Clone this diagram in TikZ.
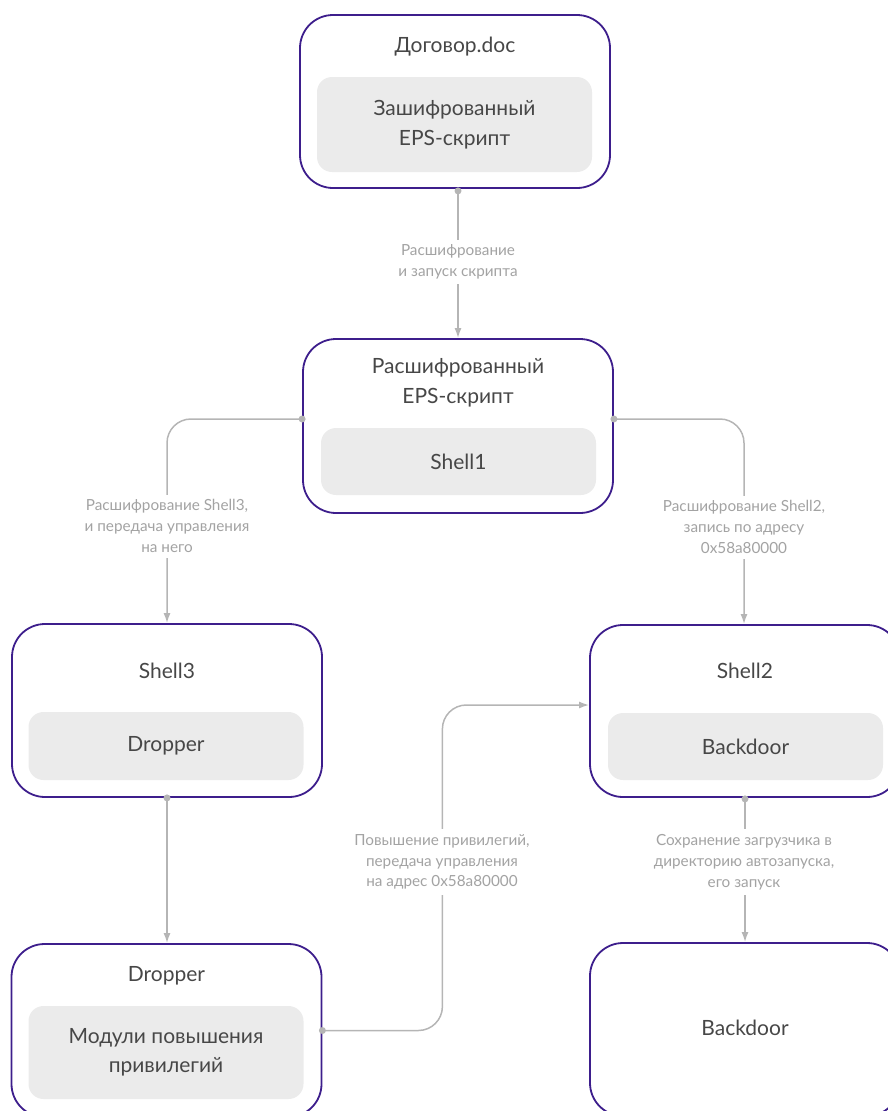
\documentclass[tikz,border=0pt]{standalone}
\usepackage{fontspec}
\setmainfont{Lato}
\usetikzlibrary{arrows.meta}
\definecolor{frame}{HTML}{3D1E8C}
\definecolor{slotgrey}{HTML}{EBEBEB}
\definecolor{ink}{HTML}{474747}
\definecolor{labelgrey}{HTML}{A3A3A3}
\definecolor{wire}{HTML}{B5B5B5}
\tikzset{
  card/.style={draw=frame, line width=1.8pt, rounded corners=33pt,
    minimum width=310pt, inner sep=0pt},
  slot/.style={fill=slotgrey, rounded corners=15pt, minimum width=275pt,
    inner sep=0pt, align=center, text=ink, font=\fontsize{21}{29.5}\selectfont},
  title/.style={align=center, text=ink, inner sep=0pt, font=\fontsize{21}{29.5}\selectfont},
  link/.style={draw=wire, line width=1.5pt, rounded corners=24pt,
    -{Latex[length=10pt,width=7pt]}},
  lbl/.style={fill=white, text=labelgrey, align=center, inner sep=5pt,
    font=\fontsize{15.3}{20.8}\selectfont},
  pin/.style={fill=wire}
}
\begin{document}
\begin{tikzpicture}[x=1pt,y=-1pt]
\useasboundingbox (0,0) rectangle (888,1111);

% document with the encrypted script
\node[card, minimum height=173pt] (doc) at (455,101.5) {};
\node[title] (docT) at (455,47) {Договор.doc};
\node[slot, minimum height=95pt] (docS) at (454.5,124.5) {Зашифрованный\\EPS-скрипт};

% decrypted script
\node[card, minimum height=174pt] (eps) at (458,426) {};
\node[title] (epsT) at (458,383) {Расшифрованный\\EPS-скрипт};
\node[slot, minimum height=67pt] (epsS) at (458.5,461.5) {Shell1};

% Shell3
\node[card, minimum height=173pt] (sh3) at (167,710.5) {};
\node[title] (sh3T) at (167,671) {Shell3};
\node[slot, minimum height=68pt] (sh3S) at (166,746) {Dropper};

% Shell2
\node[card, minimum height=172pt] (sh2) at (745,711) {};
\node[title] (sh2T) at (745,671) {Shell2};
\node[slot, minimum height=67pt] (sh2S) at (745.5,746.5) {Backdoor};

% dropper
\node[card, minimum height=173pt] (drp) at (166.5,1030.5) {};
\node[title] (drpT) at (166.5,976) {Dropper};
\node[slot, minimum height=93pt] (drpS) at (166,1052.5) {Модули повышения\\привилегий};

% backdoor
\node[card, minimum height=173pt] (bkd) at (745,1029.5) {};
\node[title] (bkdT) at (745,1028) {Backdoor};

% connectors
\coordinate (pA) at ([yshift=-2pt]doc.south -| eps.north);
\coordinate (pBL) at ([yshift=7pt]eps.west);
\coordinate (pBR) at ([yshift=7pt]eps.east);
\coordinate (pE) at (drp.east);
\coordinate (pD) at ([yshift=-1pt]sh2.south);
\coordinate (pC) at (sh3.south);

\draw[link] (pA) -- (eps.north);
\draw[link] (pBL) -| (sh3.north);
\draw[link] (pBR) -| ([xshift=-1pt]sh2.north);
\draw[link] (pC) -- (pC |- drp.north);
\draw[link] (pE) -- ++(120,0) |- ([yshift=6pt]sh2.west);
\draw[link] (pD) -- (pD |- bkd.north);

\foreach \p in {pA,pBL,pBR,pE,pD,pC}
  \fill[pin] (\p) circle (3.5pt);

% connector labels
\node[lbl] (lAB) at (458,262) {Расшифрование\\и запуск скрипта};
\node[lbl] (lBC) at (167,526) {Расшифрование Shell3,\\и передача управления\\на него};
\node[lbl] (lBD) at (744,527) {Расшифрование Shell2,\\запись по адресу\\0x58a80000};
\node[lbl] (lED) at (442,862) {Повышение привилегий,\\передача управления\\на адрес 0x58a80000};
\node[lbl] (lDF) at (744,862) {Сохранение загрузчика в\\директорию автозапуска,\\его запуск};
\end{tikzpicture}
\end{document}
